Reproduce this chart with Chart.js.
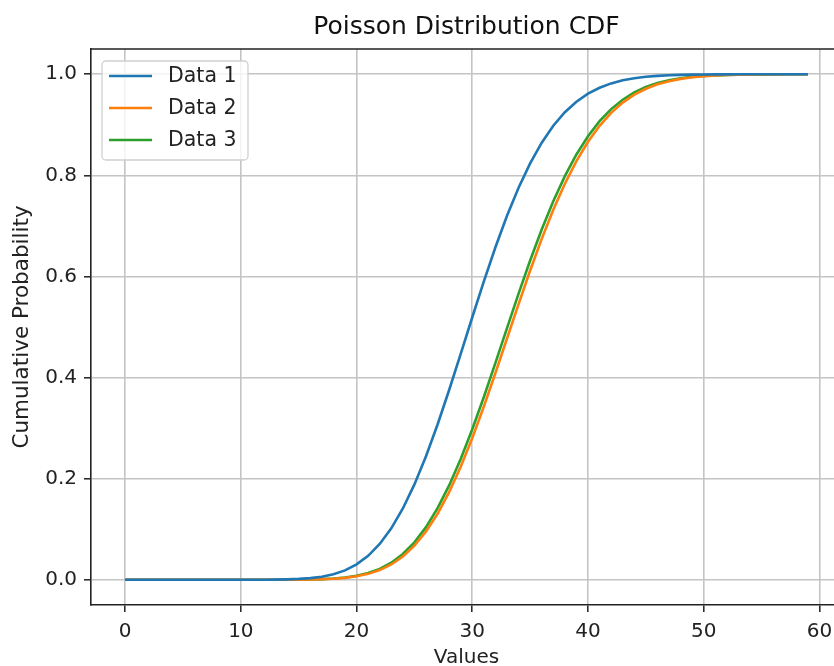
<!DOCTYPE html>
<html lang="en">
<head>
  <meta charset="UTF-8" />
  <title>Poisson Distribution CDF</title>
  <script src="https://cdn.jsdelivr.net/npm/chart.js"></script>
  <style>
    html, body {
      margin: 0;
      padding: 0;
      background: #ffffff;
      overflow: hidden;
    }
    #wrap {
      width: 933px;
      height: 670px;
    }
  </style>
</head>
<body>
  <div id="wrap">
    <canvas id="cdfChart" width="933" height="670"></canvas>
  </div>

  <script>
    // values
    const xValues = [
      0, 1, 2, 3, 4, 5, 6, 7, 8, 9,
      10, 11, 12, 13, 14, 15, 16, 17, 18, 19,
      20, 21, 22, 23, 24, 25, 26, 27, 28, 29,
      30, 31, 32, 33, 34, 35, 36, 37, 38, 39,
      40, 41, 42, 43, 44, 45, 46, 47, 48, 49,
      50, 51, 52, 53, 54, 55, 56, 57, 58, 59
    ];

    const data1 = [
      0, 0, 0, 0, 0, 0, 0, 0, 0, 0,
      0, 0, 0.0001, 0.0003, 0.0007, 0.0016, 0.0032, 0.0060, 0.0108, 0.0185,
      0.0303, 0.0472, 0.0707, 0.1016, 0.1409, 0.1886, 0.2444, 0.3072, 0.3754, 0.4469,
      0.5193, 0.5903, 0.6578, 0.7200, 0.7756, 0.8238, 0.8646, 0.8981, 0.9249, 0.9458,
      0.9617, 0.9734, 0.9820, 0.9880, 0.9921, 0.9950, 0.9968, 0.9980, 0.9988, 0.9993,
      0.9995, 0.9997, 0.9998, 0.9999, 0.9999, 0.9999, 1.0, 1.0, 1.0, 1.0
    ];

    const data2 = [
      0, 0, 0, 0, 0, 0, 0, 0, 0, 0,
      0, 0, 0, 0, 0.0001, 0.0002, 0.0005, 0.0010, 0.0020, 0.0037,
      0.0068, 0.0116, 0.0191, 0.0302, 0.0460, 0.0674, 0.0953, 0.1306, 0.1733, 0.2235,
      0.2803, 0.3427, 0.4089, 0.4772, 0.5454, 0.6117, 0.6744, 0.7319, 0.7834, 0.8283,
      0.8664, 0.8980, 0.9237, 0.9439, 0.9596, 0.9714, 0.9801, 0.9864, 0.9909, 0.9940,
      0.9961, 0.9975, 0.9985, 0.9991, 0.9994, 0.9997, 0.9998, 0.9999, 0.9999, 1.0
    ];

    const data3 = [
      0, 0, 0, 0, 0, 0, 0, 0, 0, 0,
      0, 0, 0, 0, 0.0001, 0.0003, 0.0006, 0.0012, 0.0023, 0.0043,
      0.0077, 0.0132, 0.0215, 0.0337, 0.0509, 0.0740, 0.1040, 0.1415, 0.1865, 0.2389,
      0.2977, 0.3616, 0.4290, 0.4977, 0.5659, 0.6315, 0.6930, 0.7489, 0.7985, 0.8414,
      0.8775, 0.9072, 0.9311, 0.9497, 0.9640, 0.9747, 0.9826, 0.9882, 0.9922, 0.9949,
      0.9967, 0.9979, 0.9987, 0.9992, 0.9995, 0.9997, 0.9998, 0.9999, 0.9999, 1.0
    ];

    const seriesLabels = ['Data 1', 'Data 2', 'Data 3'];
    const seriesColors = ['#1f77b4', '#ff7f0e', '#2ca02c'];
    const xTicks = [0, 10, 20, 30, 40, 50, 60];
    const yTicks = [0, 0.2, 0.4, 0.6, 0.8, 1.0];

    const FONT = "'DejaVu Sans', 'Liberation Sans', sans-serif";
    Chart.defaults.font.family = FONT;
    Chart.defaults.color = '#222222';

    function toPoints(ys) {
      return xValues.map((x, i) => ({ x: x, y: ys[i] }));
    }

    // matplotlib-style frame on top (and right) of the plot area
    const framePlugin = {
      id: 'frame',
      afterDatasetsDraw(chart) {
        const { ctx, chartArea } = chart;
        ctx.save();
        ctx.strokeStyle = '#222222';
        ctx.lineWidth = 1.6;
        ctx.beginPath();
        ctx.moveTo(chartArea.left, chartArea.top);
        ctx.lineTo(chartArea.right, chartArea.top);
        ctx.lineTo(chartArea.right, chartArea.bottom);
        ctx.stroke();
        ctx.restore();
      }
    };

    // legend box in the upper left corner of the plot area
    const boxLegend = {
      id: 'boxLegend',
      afterDraw(chart) {
        const { ctx, chartArea } = chart;
        const x0 = chartArea.left + 11;
        const y0 = chartArea.top + 12;
        const w = 146, h = 99, r = 4;
        ctx.save();
        ctx.fillStyle = 'rgba(255,255,255,0.8)';
        ctx.strokeStyle = '#d0d0d0';
        ctx.lineWidth = 1.3;
        ctx.beginPath();
        ctx.roundRect(x0, y0, w, h, r);
        ctx.fill();
        ctx.stroke();

        ctx.font = '20.5px ' + FONT;
        ctx.textBaseline = 'middle';
        ctx.textAlign = 'left';
        chart.data.datasets.forEach((ds, i) => {
          const cy = y0 + 15 + i * 32;
          ctx.strokeStyle = ds.borderColor;
          ctx.lineWidth = 2.6;
          ctx.beginPath();
          ctx.moveTo(x0 + 7, cy);
          ctx.lineTo(x0 + 50, cy);
          ctx.stroke();
          ctx.fillStyle = '#222222';
          ctx.fillText(ds.label, x0 + 66, cy + 1);
        });
        ctx.restore();
      }
    };

    const gridOpts = {
      color: '#c4c4c4',
      lineWidth: 1.6,
      tickColor: '#222222',
      tickWidth: 1.5,
      tickLength: 7,
      drawTicks: true
    };

    const ctx = document.getElementById('cdfChart').getContext('2d');
    const cdfChart = new Chart(ctx, {
      type: 'line',
      data: {
        datasets: [data1, data2, data3].map((ys, i) => ({
          label: seriesLabels[i],
          data: toPoints(ys),
          borderColor: seriesColors[i],
          backgroundColor: seriesColors[i],
          borderWidth: 2.6,
          pointRadius: 0,
          tension: 0,
          fill: false
        }))
      },
      options: {
        responsive: false,
        animation: false,
        devicePixelRatio: 1,
        layout: { padding: 0 },
        plugins: {
          legend: { display: false },
          tooltip: { enabled: false },
          title: {
            display: true,
            text: 'Poisson Distribution CDF',
            color: '#111111',
            font: { size: 25, weight: 'normal', lineHeight: 1.2 },
            padding: { top: 12, bottom: 7 }
          }
        },
        scales: {
          x: {
            type: 'linear',
            min: -2.95,
            max: 61.95,
            afterBuildTicks(scale) {
              scale.ticks = xTicks.map(v => ({ value: v }));
            },
            afterFit(scale) { scale.height = 65; },
            grid: gridOpts,
            border: { color: '#222222', width: 1.6 },
            ticks: {
              font: { size: 20 },
              padding: 8,
              maxRotation: 0,
              callback: v => String(v)
            },
            title: {
              display: true,
              text: 'Values',
              font: { size: 20, lineHeight: 1 },
              padding: { top: 0, bottom: 2.5 }
            }
          },
          y: {
            type: 'linear',
            min: -0.05,
            max: 1.05,
            afterBuildTicks(scale) {
              scale.ticks = yTicks.map(v => ({ value: v }));
            },
            afterFit(scale) { scale.width = 91; },
            grid: gridOpts,
            border: { color: '#222222', width: 1.6 },
            ticks: {
              font: { size: 20 },
              padding: 7,
              callback: v => v.toFixed(1)
            },
            title: {
              display: true,
              text: 'Cumulative Probability',
              font: { size: 21.5, lineHeight: 1.2 },
              padding: { top: 10, bottom: 0 }
            }
          },
          // empty right-hand strip so the title centres over the plot area
          yRight: {
            type: 'linear',
            position: 'right',
            min: -0.05,
            max: 1.05,
            afterFit(scale) { scale.width = 91; },
            grid: { display: false },
            border: { display: false },
            ticks: { display: false }
          }
        }
      },
      plugins: [framePlugin, boxLegend]
    });
  </script>
</body>
</html>
